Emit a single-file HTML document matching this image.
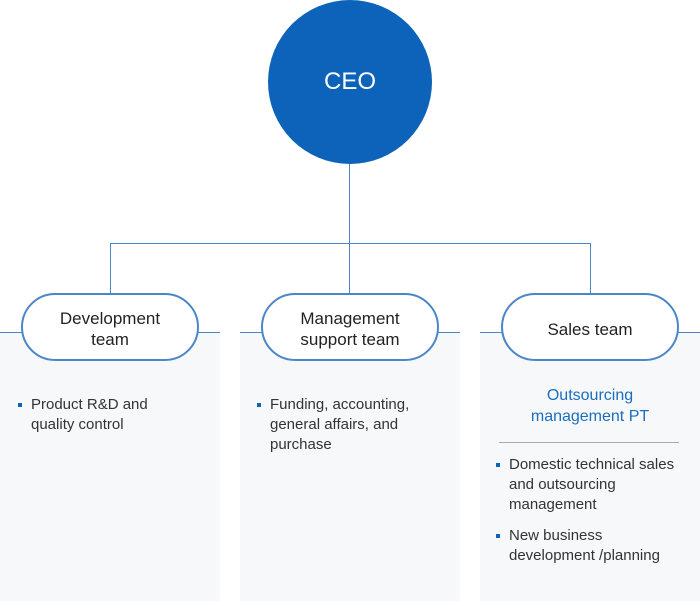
<!DOCTYPE html>
<html><head><style>
body{margin:0;width:700px;height:600px;background:#fff;position:relative;font-family:"Liberation Sans",sans-serif;overflow:hidden}
.a{position:absolute}
.panel{position:absolute;top:332px;width:220px;height:268px;background:#f7f8fa;border-top:1px solid #4a86c8}
.pill{position:absolute;top:293px;width:174px;height:60px;padding-top:4px;border:2px solid #4a86c8;border-radius:34px;background:#fff;display:flex;align-items:center;justify-content:center;text-align:center;font-size:17px;line-height:21px;color:#222}
.li{position:absolute;font-size:15px;line-height:20px;color:#333}
.li:before{content:"";position:absolute;left:-13px;top:8px;width:4px;height:4px;background:#0c63b9}
</style></head><body>
<div class="panel" style="left:0"></div>
<div class="panel" style="left:240px"></div>
<div class="panel" style="left:480px"></div>
<div class="a" style="left:349px;top:160px;width:1px;height:134px;background:#4a86c8"></div>
<div class="a" style="left:110px;top:243px;width:481px;height:1px;background:#4a86c8"></div>
<div class="a" style="left:110px;top:243px;width:1px;height:51px;background:#4a86c8"></div>
<div class="a" style="left:590px;top:243px;width:1px;height:51px;background:#4a86c8"></div>
<div class="a" style="left:268px;top:0;width:164px;height:164px;border-radius:50%;background:#0c63b9;color:#fff;font-size:24px;line-height:164px;text-align:center">CEO</div>
<div class="pill" style="left:21px">Development<br>team</div>
<div class="pill" style="left:261px">Management<br>support team</div>
<div class="pill" style="left:501px">Sales team</div>
<div class="li" style="left:31px;top:395px">Product R&amp;D and<br>quality control</div>
<div class="li" style="left:270px;top:395px">Funding, accounting,<br>general affairs, and<br>purchase</div>
<div class="a" style="left:500px;top:385px;width:180px;text-align:center;color:#1a6dbf;font-size:16px;line-height:21px">Outsourcing<br>management PT</div>
<div class="a" style="left:499px;top:442px;width:180px;height:1px;background:#aaa"></div>
<div class="li" style="left:509px;top:455px">Domestic technical sales<br>and outsourcing<br>management</div>
<div class="li" style="left:509px;top:526px">New business<br>development /planning</div>
</body></html>
